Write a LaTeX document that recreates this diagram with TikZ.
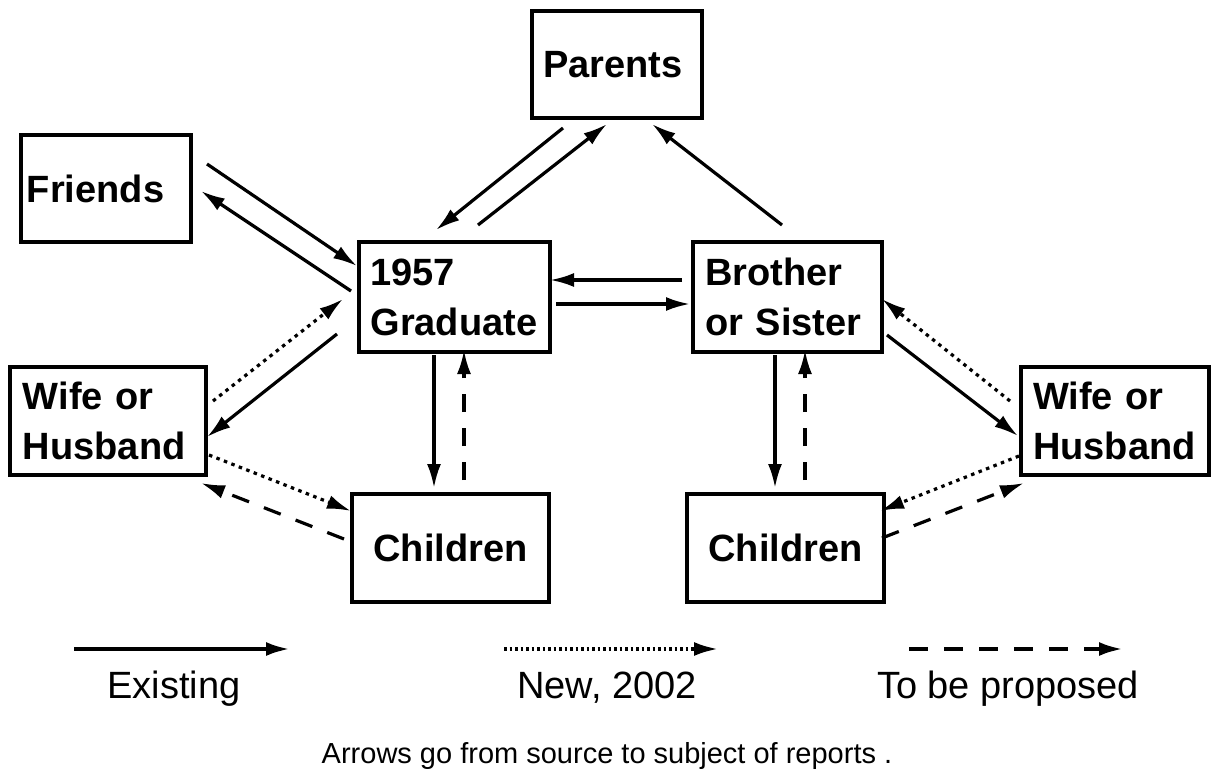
\documentclass[tikz,border=0pt]{standalone}
\usepackage{fontspec}
\setmainfont{Liberation Sans}
\usetikzlibrary{arrows.meta}

\begin{document}
\begin{tikzpicture}[x=1pt,y=-1pt,
  box/.style={draw,line width=3.6pt,outer sep=0pt,anchor=north west,inner xsep=12pt,inner ysep=0pt,align=left,font=\bfseries\fontsize{38}{50}\selectfont},
  link/.style={line width=3.2pt,-{Latex[length=24pt,width=14pt]}},
  newlink/.style={link,dash pattern=on 3.5pt off 4.5pt},
  plannedlink/.style={link,dash pattern=on 18pt off 16pt},
  legend/.style={anchor=base,font=\fontsize{38}{46}\selectfont}]
\useasboundingbox (0,0) rectangle (1213,769);
% people
\node[box,minimum width=170pt,minimum height=107pt,text width=148pt,inner xsep=11pt] (par) at (532,11) {Parents};
\node[box,minimum width=170pt,minimum height=107pt,text width=158pt,inner xsep=6pt] (fri) at (21,135) {Friends};
\node[box,minimum width=191pt,minimum height=110pt,text width=168pt,inner xsep=11.5pt] (grad) at (359,242) {1957\\Graduate};
\node[box,minimum width=189pt,minimum height=110pt,text width=165pt] (bro) at (693,242) {Brother\\or Sister};
\node[box,minimum width=196pt,minimum height=108pt,text width=170pt,inner xsep=13pt] (wifeL) at (10,367) {Wife or\\Husband};
\node[box,minimum width=188pt,minimum height=108pt,text width=164pt] (wifeR) at (1021,367) {Wife or\\Husband};
\node[box,minimum width=197pt,minimum height=108pt,text width=173pt,align=center] (kidsL) at (352,494) {Children};
\node[box,minimum width=197pt,minimum height=108pt,text width=173pt,align=center] (kidsR) at (687,494) {Children};
% reports, existing
\draw[link] ([shift={(31,117)}]par.north west) -- ([shift={(77,-12)}]grad.north west);
\draw[link] ([shift={(119,-17)}]grad.north west) -- ([shift={(75,113)}]par.north west);
\draw[link] ([shift={(89,-17)}]bro.north west) -- ([shift={(120,113)}]par.north west);
\draw[link] ([shift={(186,29)}]fri.north west) -- ([shift={(-2,24)}]grad.north west);
\draw[link] ([shift={(-8,49)}]grad.north west) -- ([shift={(180,56)}]fri.north west);
\draw[link] ([shift={(-11,38)}]bro.north west) -- ([shift={(191,38)}]grad.north west);
\draw[link] ([shift={(197,62)}]grad.north west) -- ([shift={(-3,62)}]bro.north west);
\draw[link] ([shift={(-22,92)}]grad.north west) -- ([shift={(197,70)}]wifeL.north west);
\draw[link] ([shift={(75,113)}]grad.north west) -- ([shift={(82,-6)}]kidsL.north west);
\draw[link] ([shift={(82,113)}]bro.north west) -- ([shift={(88,-6)}]kidsR.north west);
\draw[link] ([shift={(194,93)}]bro.north west) -- ([shift={(-3,69)}]wifeR.north west);
% reports, new in 2002
\draw[newlink] ([shift={(203,34)}]wifeL.north west) -- ([shift={(-16,57)}]grad.north west);
\draw[newlink] ([shift={(199,88)}]wifeL.north west) -- ([shift={(-1,17)}]kidsL.north west);
\draw[newlink] ([shift={(-11,34)}]wifeR.north west) -- ([shift={(189,57)}]bro.north west);
\draw[newlink] ([shift={(-2,89)}]wifeR.north west) -- ([shift={(193,17)}]kidsR.north west);
% reports, to be proposed
\draw[plannedlink] ([shift={(112,-14)}]kidsL.north west) -- ([shift={(105,108)}]grad.north west);
\draw[plannedlink] ([shift={(-8,45)}]kidsL.north west) -- ([shift={(191,116)}]wifeL.north west);
\draw[plannedlink] ([shift={(118,-14)}]kidsR.north west) -- ([shift={(112,108)}]bro.north west);
\draw[plannedlink] ([shift={(195,44)}]kidsR.north west) -- ([shift={(3,116)}]wifeR.north west);
% legend
\coordinate (exA) at (74,649);   \coordinate (exB) at (290,649);
\coordinate (nwA) at (504,649);  \coordinate (nwB) at (718,649);
\coordinate (plA) at (909,649);  \coordinate (plB) at (1123,649);
\draw[link,line width=4pt] (exA) -- (exB);
\draw[newlink,line width=3.5pt,dash pattern=on 2.5pt off 3pt] (nwA) -- (nwB);
\draw[plannedlink,line width=4pt,dash pattern=on 19pt off 16pt] (plA) -- (plB);
\node[legend] (exist) at (174,698) {Existing};
\node[legend] (new) at (607,698) {New, 2002};
\node[legend] (plan) at (1008,698) {To be proposed};
\node[anchor=base,font=\fontsize{29}{35}\selectfont] (note) at (607,763) {Arrows go from source to subject of reports .};
\end{tikzpicture}
\end{document}
